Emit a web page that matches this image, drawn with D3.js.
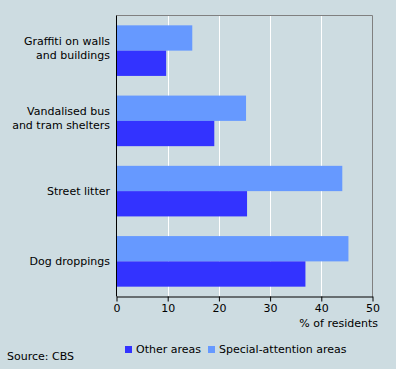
<!DOCTYPE html>
<html><head><meta charset="utf-8">
<script src="https://cdn.jsdelivr.net/npm/d3@7"></script>
<style>
html,body{margin:0;padding:0;background:#cddce1;}
svg{display:block;font-family:"DejaVu Sans",Verdana,sans-serif;}
</style></head>
<body>
<svg id="chart" width="396" height="369"></svg>
<script>
const categories = [["Graffiti on walls","and buildings"],["Vandalised bus","and tram shelters"],["Street litter"],["Dog droppings"]];
const specialValues = [14.8, 25.3, 44.1, 45.3];
const otherValues = [9.7, 19.1, 25.5, 36.9];
const xTicks = [0,10,20,30,40,50];
const seriesNames = ["Other areas","Special-attention areas"];
const colors = {other:"#3333ff", special:"#6699ff"};

const svg = d3.select("#chart");
const bg = "#cddce1";
svg.append("rect").attr("width",396).attr("height",369).attr("fill",bg);

const pL=116.5, pR=372.5, pT=15.5, pB=296.5;
const x = d3.scaleLinear().domain([0,50]).range([pL,pR]);
const y = d3.scaleBand().domain(d3.range(categories.length)).range([pT,pB]).paddingInner(0.28).paddingOuter(0.14);
const sub = d3.scaleBand().domain(["special","other"]).range([0,y.bandwidth()]);

// grid
svg.append("g").selectAll("line").data(xTicks.slice(1,-1)).join("line")
  .attr("x1",d=>Math.round(x(d))+0.5).attr("x2",d=>Math.round(x(d))+0.5)
  .attr("y1",pT).attr("y2",pB).attr("stroke","#fff").attr("stroke-width",1);

// frame top/right
svg.append("path").attr("d",`M${pL},${pT}H${pR}V${pB}`).attr("fill","none").attr("stroke","#808080");

const g = svg.append("g");
categories.forEach((c,i)=>{
  g.append("rect").attr("x",x(0)).attr("y",y(i)+sub("special")).attr("width",x(specialValues[i])-x(0)).attr("height",sub.bandwidth()).attr("fill",colors.special);
  g.append("rect").attr("x",x(0)).attr("y",y(i)+sub("other")).attr("width",x(otherValues[i])-x(0)).attr("height",sub.bandwidth()).attr("fill",colors.other);
  const t = svg.append("text").attr("text-anchor","end").attr("font-size",11).attr("fill","#000");
  const cy = y(i)+y.bandwidth()/2;
  const n = c.length;
  c.forEach((line,j)=>{
    t.append("tspan").attr("x",110).attr("y",cy + (j-(n-1)/2)*14 + 4 - (n-1)*3).text(line);
  });
});

// axes
const xAxis = d3.axisBottom(x).tickValues(xTicks).tickSize(5).tickSizeOuter(0).tickPadding(3);
const ax = svg.append("g").attr("transform",`translate(0,${pB})`).call(xAxis);
ax.select(".domain").attr("stroke","#000");
ax.selectAll(".tick line").attr("stroke","#000");
ax.selectAll(".tick text").attr("font-size",11).attr("font-family","DejaVu Sans").attr("fill","#000");
svg.append("line").attr("x1",pL).attr("x2",pL).attr("y1",pT).attr("y2",pB).attr("stroke","#000");

svg.append("text").attr("x",378).attr("y",327).attr("text-anchor","end").attr("font-size",11).text("% of residents");

// legend
const leg = [{n:seriesNames[0],c:colors.other,x:125},{n:seriesNames[1],c:colors.special,x:208}];
leg.forEach(l=>{
  svg.append("rect").attr("x",l.x).attr("y",346).attr("width",7).attr("height",7).attr("fill",l.c);
  svg.append("text").attr("x",l.x+11).attr("y",352.5).attr("font-size",11).text(l.n);
});
svg.append("text").attr("x",7).attr("y",360).attr("font-size",11).text("Source: CBS");
</script>
</body></html>
